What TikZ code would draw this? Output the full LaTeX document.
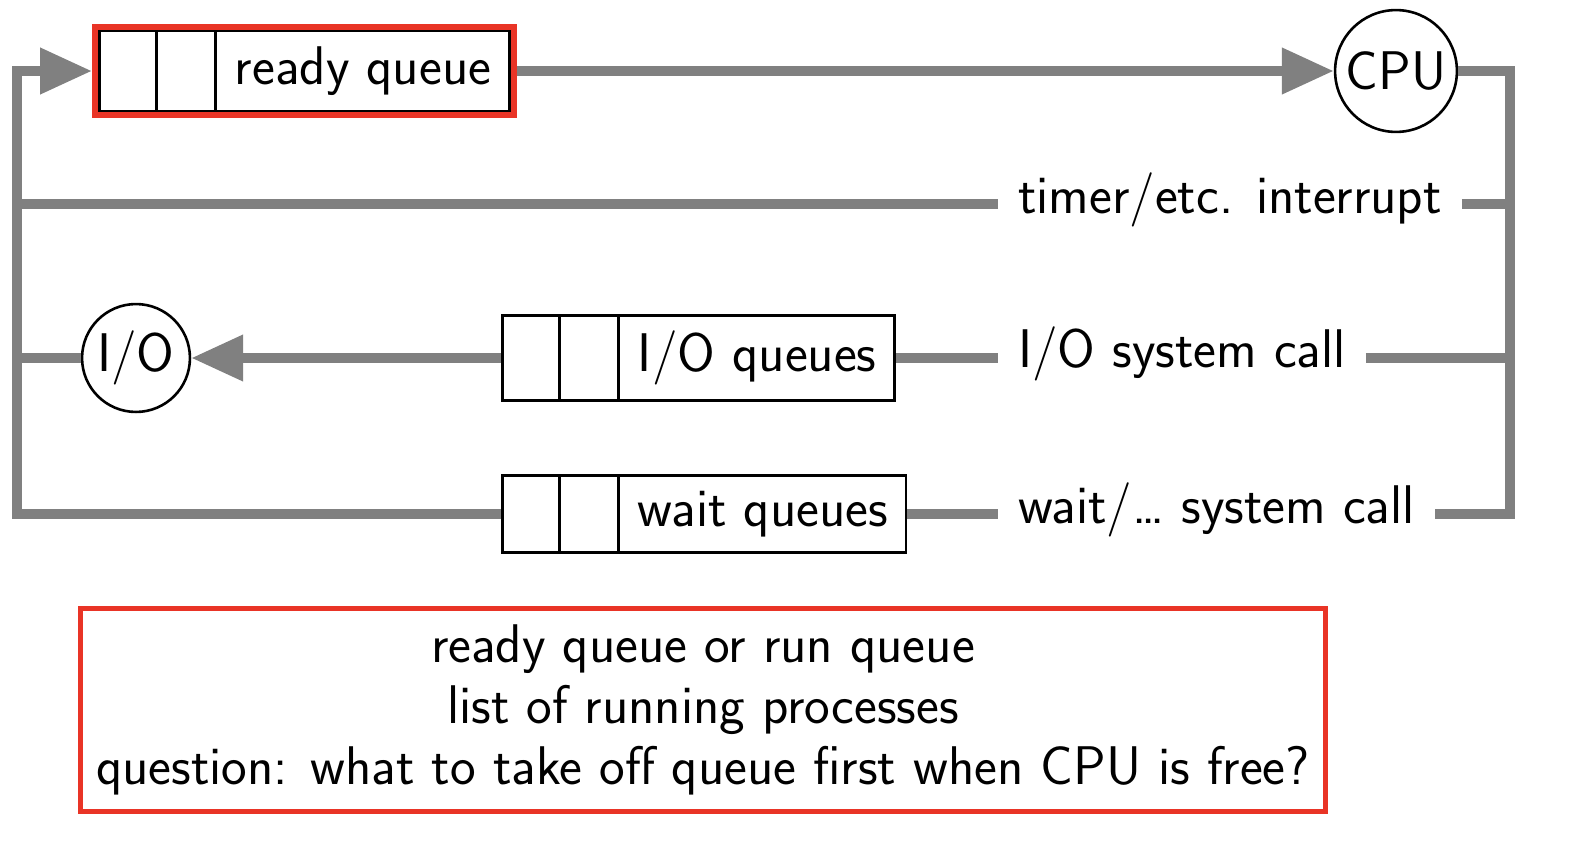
\documentclass[tikz,border=0pt]{standalone}
\usepackage{tikz}
\usetikzlibrary{positioning,shapes.multipart,fit,arrows.meta}

\definecolor{flowgray}{RGB}{128,128,128}
\definecolor{markred}{RGB}{233,52,38}

\tikzset{
  flow/.style={draw=flowgray, line width=3.1pt},
  flowarrow/.style={-{Stealth[length=16pt,width=13.6pt,inset=0pt]}},
  queue/.style={draw, line width=0.9pt, rectangle split, rectangle split horizontal,
    rectangle split parts=3, rectangle split empty part width=1.7pt,
    inner xsep=5.6pt, inner ysep=4.8pt, anchor=west},
  hilite/.style={draw=markred, line width=1.85pt, inner sep=0.93pt},
  unit/.style={draw, circle, line width=0.8pt, inner sep=0pt},
  callname/.style={anchor=west, inner xsep=6pt, text height=0.57em, text depth=0pt}
}

\begin{document}
\begin{tikzpicture}[x=0.3086pt, y=-0.3086pt,
  every node/.style={font=\sffamily\fontsize{16.8}{18.7}\selectfont}]
\useasboundingbox (0,0) rectangle (1586,852);

% queues
\node[queue] (rq) at (98,71) {\nodepart{two}\nodepart{three}ready queue};
\node[hilite, fit=(rq)] (rqmark) {};
\node[queue] (ioq) at (501,358) {\nodepart{two}\nodepart{three}I/O queues};
\node[queue] (wq) at (501,514) {\nodepart{two}\nodepart{three}wait queues};

% CPU and device
\node[unit, minimum size=37.6pt] (cpu) at (1396,71) {CPU};
\node[unit, minimum size=33.3pt] (io) at (136,358) {I/O};

% ways off the CPU
\node[callname] (timer) at (998,204) {timer/etc. interrupt};
\node[callname] (iocall) at (998,358) {I/O system call};
\node[callname] (waitcall) at (998,514) {wait/… system call};

\coordinate (ltop) at (17,71);
\coordinate (rbot) at (1510,514);

% flow lines
\draw[flow, flowarrow] (rqmark.east) -- (cpu.west);
\draw[flow] (cpu.east) -| (rbot) -- (waitcall.east);
\draw[flow, flowarrow] (wq.west) -| (ltop) -- (rqmark.west);
\draw[flow] (timer.west) -- (timer.west -| ltop);
\draw[flow] (timer.east) -- (timer.east -| rbot);
\draw[flow, flowarrow] (ioq.west) -- (io.east);
\draw[flow] (io.west) -- (io.west -| ltop);
\draw[flow] (ioq.east) -- (iocall.west);
\draw[flow] (iocall.east) -- (iocall.east -| rbot);
\draw[flow] (wq.east) -- (waitcall.west);

% note
\node[draw=markred, line width=1.3pt, align=center, inner sep=0pt,
  minimum width=384.2pt, minimum height=62.6pt] (note) at (703,710)
  {ready queue or run queue\\list of running processes\\question: what to take off queue first when CPU is free?};
\end{tikzpicture}
\end{document}
